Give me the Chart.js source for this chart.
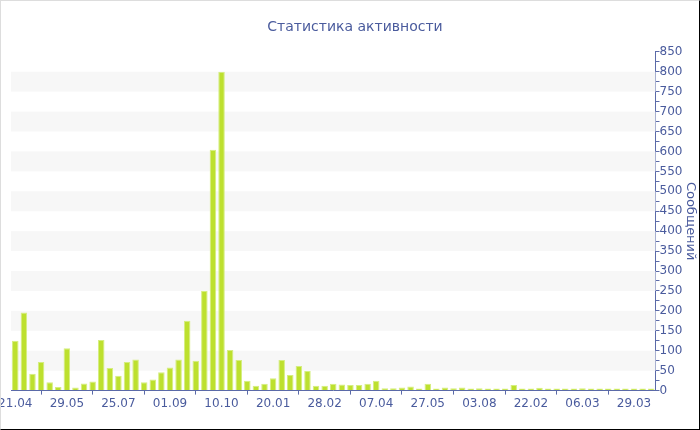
<!DOCTYPE html>
<html>
<head>
<meta charset="utf-8">
<script src="https://cdn.jsdelivr.net/npm/chart.js@4.4.1/dist/chart.umd.min.js"></script>
<style>
    html, body { margin: 0; padding: 0; background: #fff; }
    #wrap { width: 700px; height: 430px; box-sizing: border-box; border: 1px solid #000; border-top-color: #ddd; border-left-color: #ddd; }
    #chart { display: block; }
</style>
</head>
<body>
<div id="wrap"><canvas id="chart" width="698" height="428"></canvas></div>
<script>
// подписи оси X (видны только каждые 6 столбцов)
var tickLabels = ["21.04", "29.05", "25.07", "01.09", "10.10", "20.01", "28.02", "07.04", "27.05", "03.08", "22.02", "06.03", "29.03"]
var labelStep = 6
var barCount = 75

// сообщения по периодам
var messages = [125, 196, 42, 72, 21, 9, 106, 8, 18, 23,
    127, 57, 37, 72, 78, 21, 28, 46, 58, 78,
    175, 75, 250, 604, 800, 102, 77, 25, 12, 17,
    31, 77, 39, 62, 49, 12, 12, 17, 15, 14,
    14, 17, 25, 6, 6, 8, 10, 5, 17, 5,
    8, 6, 8, 5, 6, 5, 5, 5, 14, 5,
    5, 7, 5, 5, 5, 5, 6, 5, 5, 5,
    5, 5, 5, 5, 5]

var categories = []
for (var i = 0; i < barCount; i++) {
    categories.push(i % labelStep == 0 ? tickLabels[i / labelStep] : "")
}

var textColor = "#4a5b9d"
var axisColor = "#5b6aa8"
var fontFamily = "'DejaVu Sans', Verdana, sans-serif"

// светлые полосы фона через каждые 100
var bandsPlugin = {
    id: "bands",
    beforeDatasetsDraw: function (chart) {
        var ctx = chart.ctx
        var area = chart.chartArea
        var y = chart.scales.y
        ctx.save()
        ctx.fillStyle = "#f7f7f7"
        for (var v = 50; v < 850; v += 100) {
            var top = y.getPixelForValue(v + 50)
            var bottom = y.getPixelForValue(v)
            ctx.fillRect(area.left, top, area.right - area.left, bottom - top)
        }
        ctx.restore()
    }
}

var chart = new Chart("chart", {
    type: "bar",
    data: {
        labels: categories,
        datasets: [{
            label: "Сообщений",
            data: messages,
            backgroundColor: "#bde02e",
            borderColor: "#d5ee80",
            borderWidth: 1,
            categoryPercentage: 0.8,
            barPercentage: 0.95
        }]
    },
    options: {
        responsive: false,
        animation: false,
        layout: {padding: {left: 10, right: 0, top: 0, bottom: 16}},
        plugins: {
            legend: {display: false},
            tooltip: {enabled: false},
            title: {
                display: true,
                text: "Статистика активности",
                color: textColor,
                font: {family: fontFamily, size: 14, weight: "normal"},
                padding: {top: 18, bottom: 16}
            }
        },
        scales: {
            x: {
                offset: true,
                border: {color: axisColor, width: 1},
                grid: {display: true, drawOnChartArea: false, drawTicks: true, tickLength: 4, color: axisColor},
                afterFit: function (scale) {
                    // первая подпись обрезается слева, как в оригинале
                    scale.paddingLeft = 0
                },
                ticks: {
                    autoSkip: false,
                    maxRotation: 0,
                    padding: 2,
                    color: textColor,
                    font: {family: fontFamily, size: 12},
                    callback: function (val, index) {
                        var l = categories[index]
                        return l ? l : null
                    }
                }
            },
            y: {
                position: "right",
                min: 0,
                max: 850,
                border: {color: axisColor, width: 1},
                grid: {display: true, drawOnChartArea: false, drawTicks: true, tickLength: 4, color: axisColor},
                ticks: {
                    stepSize: 25,
                    autoSkip: false,
                    padding: 0,
                    color: textColor,
                    font: {family: fontFamily, size: 12},
                    callback: function (val) {
                        return val % 50 == 0 ? val : ""
                    }
                },
                title: {
                    display: true,
                    text: "Сообщений",
                    color: textColor,
                    font: {family: fontFamily, size: 13},
                    padding: {top: 1, bottom: 0}
                }
            }
        }
    },
    plugins: [bandsPlugin]
})
</script>
</body>
</html>
